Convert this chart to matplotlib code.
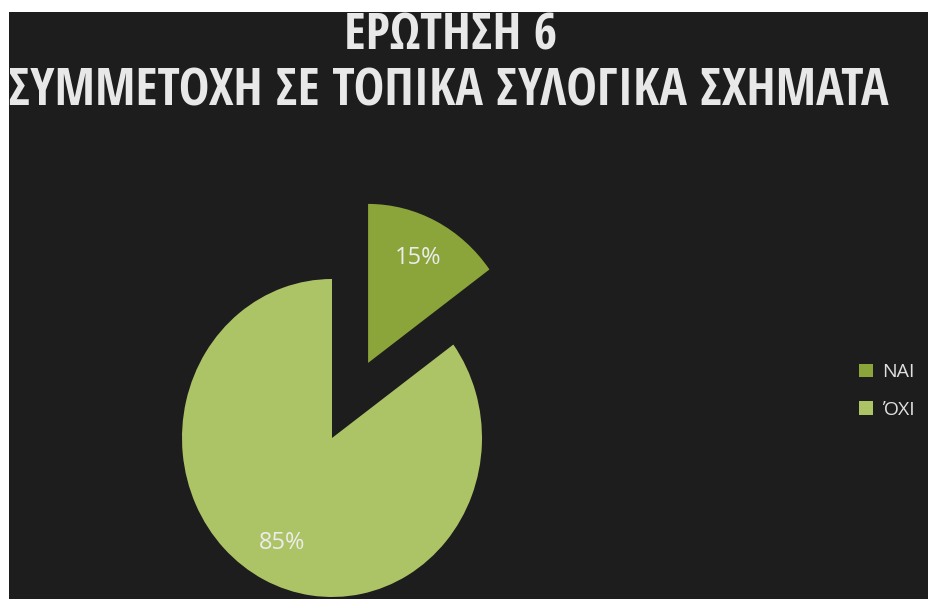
import matplotlib
matplotlib.use("Agg")
import matplotlib.pyplot as plt
from matplotlib.patches import Rectangle, Patch
from matplotlib import font_manager

categories = ["ΝΑΙ", "ΌΧΙ"]
values = [15, 85]
explode = [0.53, 0.0]
colors = ["#8ba53b", "#adc466"]
title_line1 = "ΕΡΩΤΗΣΗ 6"
title_line2 = "ΣΥΜΜΕΤΟΧΗ ΣΕ ΤΟΠΙΚΑ ΣΥΛΟΓΙΚΑ ΣΧΗΜΑΤΑ"

W, H, DPI = 929, 599, 100
plt.rcParams['font.family'] = ['Open Sans', 'DejaVu Sans']

available = {f.name for f in font_manager.fontManager.ttflist}
title_family = 'Open Sans'
for cand in ['Open Sans Condensed', 'Liberation Sans Narrow', 'Roboto Condensed']:
    if cand in available:
        title_family = cand
        break

fig = plt.figure(figsize=(W / DPI, H / DPI), dpi=DPI)
fig.patch.set_facecolor("white")
fig.add_artist(Rectangle((9 / W, 0), 1, (H - 12) / H, transform=fig.transFigure,
                         facecolor="#1d1d1d", edgecolor="none", zorder=0))

ax = fig.add_axes([0, 0, 1, 1])
ax.set_facecolor("none")
ax.patch.set_alpha(0)

wedges, texts, autotexts = ax.pie(
    values, explode=explode, colors=colors, startangle=90, counterclock=False,
    autopct=lambda p: f"{p:.0f}%", pctdistance=0.74,
    textprops=dict(color="#ececec", fontsize=17),
    wedgeprops=dict(linewidth=0))
ax.set_aspect('auto')

# map data units to pixels: center at image (332, 438), rx=150 px, ry=159 px
cx, cy_img, rx, ry = 332, 438, 150, 159
cy = H - cy_img
ax.set_xlim(-cx / rx, (W - cx) / rx)
ax.set_ylim(-cy / ry, (H - cy) / ry)
ax.axis('off')

# title
t1 = fig.text(451 / W, 1 - 37 / H, title_line1, ha="center", va="center",
              color="#e8e8e8", fontsize=30, fontweight="bold",
              family=[title_family, 'DejaVu Sans'])
t2 = fig.text(448 / W, 1 - 92 / H, title_line2, ha="center", va="center",
              color="#e8e8e8", fontsize=36, fontweight="bold",
              family=[title_family, 'DejaVu Sans'])
fig.canvas.draw()
r = fig.canvas.get_renderer()
for t, target in ((t1, 213), (t2, 879)):
    w = t.get_window_extent(r).width
    t.set_fontsize(t.get_fontsize() * target / w)

handles = [Patch(facecolor=c, edgecolor="none") for c in colors]
leg = fig.legend(handles, categories, loc="center left",
                 bbox_to_anchor=(842 / W, 1 - 391 / H), frameon=False,
                 fontsize=14, labelcolor="#e0e0e0", handlelength=0.7,
                 handleheight=0.7, handletextpad=0.45, labelspacing=1.0)

fig.savefig("out.png", dpi=DPI, facecolor=fig.get_facecolor())
